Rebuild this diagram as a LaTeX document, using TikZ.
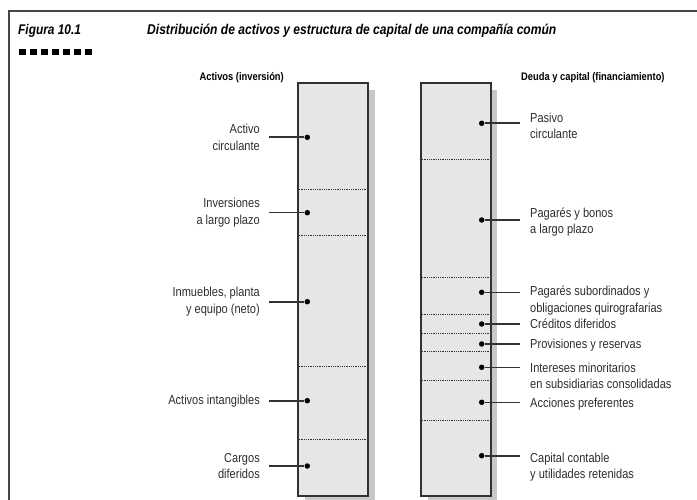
\documentclass[tikz,border=0pt]{standalone}
\usepackage{fontspec}
\setmainfont{Liberation Sans}[FakeStretch=0.85]
\usetikzlibrary{positioning}

\definecolor{barfill}{RGB}{230,230,232}
\definecolor{shadowgray}{RGB}{200,200,202}
\definecolor{edgegray}{RGB}{50,50,50}
\definecolor{labelgray}{RGB}{45,45,45}
\definecolor{framegray}{RGB}{70,70,70}

\begin{document}
\begin{tikzpicture}[x=1pt,y=-1pt,
    bar/.style={draw=edgegray,fill=barfill,line width=1.6pt},
    divider/.style={draw=edgegray,line width=1pt,dash pattern=on 1pt off 0.8pt},
    spot/.style={circle,fill=black,inner sep=0pt,minimum size=5.5pt},
    lbl/.style={text=labelgray,font=\fontsize{13}{16.5}\selectfont,inner sep=0pt},
    head/.style={font=\fontsize{11}{13}\selectfont\bfseries,inner sep=0pt},
    lead/.style={draw=edgegray,line width=1.6pt}
]
    \useasboundingbox (0,0) rectangle (697,500);
    % frame and title
    \draw[framegray,line width=1.8pt] (9,500) -- (9,11) -- (697,11);
    \node[anchor=base west,inner sep=0pt,font=\fontsize{14}{16}\selectfont\bfseries\itshape] (fig) at (18,35) {Figura 10.1};
    \node[anchor=base west,inner sep=0pt,font=\fontsize{14.2}{16}\selectfont\bfseries\itshape] (title) at (147,35)
        {Distribución de activos y estructura de capital de una compañía común};
    \foreach \i in {0,...,6}
        \fill (19+\i*11,49) rectangle ++(6.5,6);

    % column heads
    \node[head,anchor=east] (hact) at (284,78) {Activos (inversión)};
    \node[head,anchor=west] (hdeu) at (521,78) {Deuda y capital (financiamiento)};

    % bars with shadow
    \fill[shadowgray] (305,90) rectangle (375,503);
    \fill[shadowgray] (428,90) rectangle (497,503);
    \draw[bar] (298,83) rectangle (368,496);
    \draw[bar] (421,83) rectangle (491,496);
    \foreach \y in {189.3,236,366.7,439}
        \draw[divider] (298.8,\y) -- (367.2,\y);
    \foreach \y in {160,277.3,314,333.3,351,380,420.7}
        \draw[divider] (421.8,\y) -- (490.2,\y);

    % activos
    \node[spot] (ac) at (307.3,137.3) {};
    \node[spot] (ilp) at (307.3,212.7) {};
    \node[spot] (ipe) at (307.3,301.7) {};
    \node[spot] (ai) at (307.3,400.7) {};
    \node[spot] (cd) at (307.3,466) {};
    \node[lbl,anchor=east,align=right] (lac) at (260,137.3) {Activo\\circulante};
    \node[lbl,anchor=east,align=right] (lilp) at (260,212.7) {Inversiones\\a largo plazo};
    \node[lbl,anchor=east,align=right] (lipe) at (260,301.7) {Inmuebles, planta\\y equipo (neto)};
    \node[lbl,anchor=east,align=right] (lai) at (260,400.7) {Activos intangibles};
    \node[lbl,anchor=east,align=right] (lcd) at (260,466) {Cargos\\diferidos};
    \foreach \a/\b in {lac/ac,lilp/ilp,lipe/ipe,lai/ai,lcd/cd}
        \draw[lead,shorten <=9pt] (\a.east) -- (\b);

    % deuda y capital
    \node[spot] (pc) at (481.7,123.3) {};
    \node[spot] (pb) at (481.7,220) {};
    \node[spot] (ps) at (481.7,292.3) {};
    \node[spot] (cr) at (481.7,324) {};
    \node[spot] (pr) at (481.7,344) {};
    \node[spot] (im) at (481.7,367.3) {};
    \node[spot] (ap) at (481.7,402.3) {};
    \node[spot] (cc) at (481.7,455.7) {};
    \node[lbl,anchor=west,align=left] (lpc) at (530,126) {Pasivo\\circulante};
    \node[lbl,anchor=west,align=left] (lpb) at (530,222) {Pagarés y bonos\\a largo plazo};
    \node[lbl,anchor=west,align=left] (lps) at (530,300.5) {Pagarés subordinados y\\obligaciones quirografarias};
    \node[lbl,anchor=west,align=left] (lcr) at (530,324) {Créditos diferidos};
    \node[lbl,anchor=west,align=left] (lpr) at (530,345.5) {Provisiones y reservas};
    \node[lbl,anchor=west,align=left] (lim) at (530,376) {Intereses minoritarios\\en subsidiarias consolidadas};
    \node[lbl,anchor=west,align=left] (lap) at (530,404) {Acciones preferentes};
    \node[lbl,anchor=west,align=left] (lcc) at (530,467) {Capital contable\\y utilidades retenidas};
    \foreach \a/\b in {pc/lpc,pb/lpb,ps/lps,cr/lcr,pr/lpr,im/lim,ap/lap,cc/lcc}
        \draw[lead,shorten >=10pt] (\a) -- (\a -| \b.west);
\end{tikzpicture}
\end{document}
